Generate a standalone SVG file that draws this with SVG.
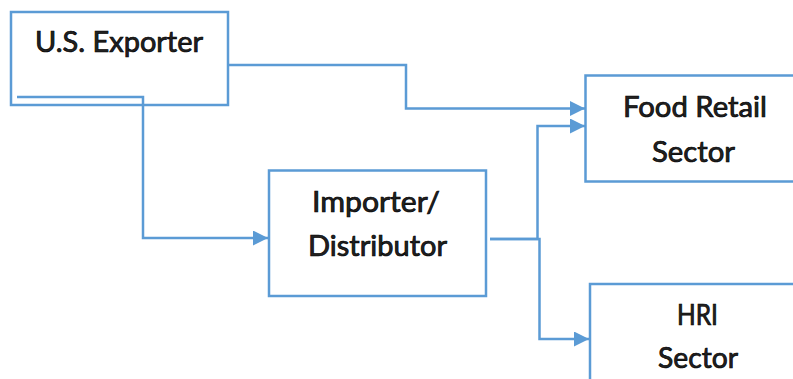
<svg xmlns="http://www.w3.org/2000/svg" width="793" height="379" viewBox="0 0 793 379">
<style>
.box{fill:#fff;stroke:#5b9bd5;stroke-width:2.5}
.conn{fill:none;stroke:#5b9bd5;stroke-width:2.5}
.lbl{font-family:Lato,"Open Sans","Liberation Sans",sans-serif;font-size:28px;fill:#222;stroke:#000;stroke-width:0.7;text-anchor:middle}
</style>
<defs>
<marker id="arr" markerUnits="userSpaceOnUse" markerWidth="16" markerHeight="16" refX="15" refY="7.5" orient="auto" viewBox="0 0 16 16">
<path d="M0,0 L15,7.5 L0,15 z" fill="#5b9bd5"/>
</marker>
</defs>
<rect width="793" height="379" fill="#fff"/>
<g id="exporter">
<rect class="box" x="11" y="12" width="217" height="93"/>
<text class="lbl" x="119" y="52" textLength="168" lengthAdjust="spacingAndGlyphs">U.S. Exporter</text>
</g>
<g id="importer">
<rect class="box" x="269" y="170.5" width="217" height="125.5"/>
<text class="lbl" x="376" y="212" textLength="128" lengthAdjust="spacingAndGlyphs">Importer/</text>
<text class="lbl" x="377.5" y="255.5" textLength="139" lengthAdjust="spacingAndGlyphs">Distributor</text>
</g>
<g id="food-retail">
<rect class="box" x="585.5" y="75.5" width="220" height="106"/>
<text class="lbl" x="695" y="116.5" textLength="144" lengthAdjust="spacingAndGlyphs">Food Retail</text>
<text class="lbl" x="693.5" y="161.5" textLength="83" lengthAdjust="spacingAndGlyphs">Sector</text>
</g>
<g id="hri">
<rect class="box" x="590" y="284" width="220" height="110"/>
<text class="lbl" x="697.5" y="325" textLength="41" lengthAdjust="spacingAndGlyphs">HRI</text>
<text class="lbl" x="698" y="368" textLength="80" lengthAdjust="spacingAndGlyphs">Sector</text>
</g>
<g id="connectors">
<path class="conn" d="M228,65 H406 V108.5 H585" marker-end="url(#arr)"/>
<path class="conn" d="M17,97 H143 V238 H268" marker-end="url(#arr)"/>
<path class="conn" d="M490,239 H537.5 V126 H585" marker-end="url(#arr)"/>
<path class="conn" d="M490,239 H539.5 V339 H589" marker-end="url(#arr)"/>
</g>
</svg>
